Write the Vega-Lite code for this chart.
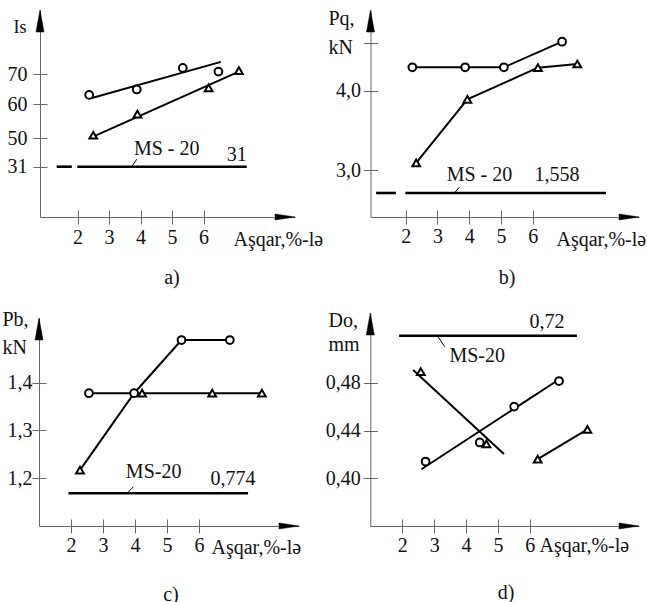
{
  "$schema": "https://vega.github.io/schema/vega-lite/v6.json",
  "padding": 0,
  "spacing": 0,
  "bounds": "flush",
  "columns": 2,
  "datasets": {
    "a_pts": [
      {"x": 2.37, "y": 63.1, "m": "circle"}, {"x": 3.88, "y": 64.9, "m": "circle"},
      {"x": 5.34, "y": 72.0, "m": "circle"}, {"x": 6.47, "y": 70.8, "m": "circle"},
      {"x": 2.5, "y": 50.9, "m": "triangle"}, {"x": 3.9, "y": 57.1, "m": "triangle"},
      {"x": 6.16, "y": 65.4, "m": "triangle"}, {"x": 7.12, "y": 71.1, "m": "triangle"}
    ],
    "a_fit": [
      {"x": 2.4, "y": 61.9, "g": "circle"}, {"x": 6.55, "y": 74.0, "g": "circle"},
      {"x": 2.48, "y": 50.4, "g": "triangle"}, {"x": 7.12, "y": 70.8, "g": "triangle"}
    ],
    "a_ms": [{"x": 1.34, "x2": 1.82, "y": 31}, {"x": 1.99, "x2": 7.37, "y": 31}],
    "a_lead": [{"x": 3.72, "y": 31, "x2": 3.88, "y2": 36}],
    "a_lbl": [{"x": 4.83, "y": 38.9, "t": "MS - 20"}, {"x": 7.05, "y": 34.5, "t": "31"}],
    "a_ay": [{"x": 0.81, "y": 91.1}],
    "a_ax": [{"x": 8.9, "y": 0}],
    "b_pts": [
      {"x": 2.21, "y": 4.295, "m": "circle", "g": "circle"}, {"x": 3.87, "y": 4.295, "m": "circle", "g": "circle"},
      {"x": 5.09, "y": 4.295, "m": "circle", "g": "circle"}, {"x": 6.92, "y": 4.618, "m": "circle", "g": "circle"},
      {"x": 2.33, "y": 3.09, "m": "triangle", "g": "triangle"}, {"x": 3.94, "y": 3.89, "m": "triangle", "g": "triangle"},
      {"x": 6.16, "y": 4.29, "m": "triangle", "g": "triangle"}, {"x": 7.4, "y": 4.337, "m": "triangle", "g": "triangle"}
    ],
    "b_ms": [{"x": 1.07, "x2": 1.69, "y": 1.558}, {"x": 1.99, "x2": 8.3, "y": 1.558}],
    "b_lead": [{"x": 3.53, "y": 1.558, "x2": 3.69, "y2": 1.93}],
    "b_lbl": [{"x": 4.32, "y": 2.28, "t": "MS - 20"}, {"x": 6.76, "y": 2.28, "t": "1,558"}],
    "b_ay": [{"x": 0.893, "y": 5.018}],
    "b_ax": [{"x": 9.34, "y": 0}],
    "c_pts": [
      {"x": 2.28, "y": 1.217, "m": "triangle", "g": "A"}, {"x": 3.97, "y": 1.378, "m": "circle", "g": "A"},
      {"x": 5.45, "y": 1.489, "m": "circle", "g": "A"}, {"x": 6.96, "y": 1.489, "m": "circle", "g": "A"},
      {"x": 2.56, "y": 1.378, "m": "circle", "g": "B"}, {"x": 4.22, "y": 1.378, "m": "triangle", "g": "B"},
      {"x": 6.41, "y": 1.378, "m": "triangle", "g": "B"}, {"x": 7.96, "y": 1.378, "m": "triangle", "g": "B"}
    ],
    "c_ms": [{"x": 1.92, "x2": 7.53, "y": 0.774}],
    "c_lead": [{"x": 3.75, "y": 0.774, "x2": 3.95, "y2": 0.961}],
    "c_lbl": [{"x": 4.58, "y": 1.2, "t": "MS-20"}, {"x": 7.06, "y": 1.01, "t": "0,774"}],
    "c_ay": [{"x": 1.0, "y": 1.535}],
    "c_ax": [{"x": 9.12, "y": 0}],
    "d_pts": [
      {"x": 2.73, "y": 0.414, "m": "circle"}, {"x": 4.43, "y": 0.43, "m": "circle"},
      {"x": 5.51, "y": 0.46, "m": "circle"}, {"x": 6.92, "y": 0.4814, "m": "circle"},
      {"x": 2.58, "y": 0.4892, "m": "triangle"}, {"x": 4.64, "y": 0.4288, "m": "triangle"},
      {"x": 6.25, "y": 0.416, "m": "triangle"}, {"x": 7.81, "y": 0.441, "m": "triangle"}
    ],
    "d_fit": [
      {"x": 2.6, "y": 0.4076, "g": "circle"}, {"x": 6.82, "y": 0.481, "g": "circle"},
      {"x": 2.34, "y": 0.4906, "g": "triangle"}, {"x": 5.19, "y": 0.4204, "g": "triangle"},
      {"x": 6.25, "y": 0.416, "g": "triangle2"}, {"x": 7.81, "y": 0.441, "g": "triangle2"}
    ],
    "d_ms": [{"x": 1.9, "x2": 7.48, "y": 0.72}],
    "d_lead": [{"x": 3.1, "y": 0.72, "x2": 3.33, "y2": 0.615}],
    "d_lbl": [{"x": 4.35, "y": 0.497, "t": "MS-20"}, {"x": 6.54, "y": 0.746, "t": "0,72"}],
    "d_ay": [{"x": 0.995, "y": 0.8}],
    "d_ax": [{"x": 9.43, "y": 0.36}]
  },
  "concat": [
    {
      "width": 323, "height": 300,
      "title": {"text": "a)", "orient": "bottom", "frame": "group", "anchor": "middle", "offset": -32, "dx": 10.5, "baseline": "top"},
      "encoding": {
        "x": {"field": "x", "type": "quantitative",
              "scale": {"domain": [0.81, 8.9], "range": [40, 295], "nice": false, "zero": false},
              "axis": {"values": [2, 3, 4, 5, 6], "offset": -83, "labelPadding": 3, "encoding": {"ticks": {"y": {"value": -7}}},
                       "title": "Aşqar,%-lə", "titleX": 233, "titleY": 28, "titleAlign": "left", "titleBaseline": "alphabetic"}},
        "y": {"field": "y", "type": "quantitative",
              "scale": {"domain": [0, 31, 50, 60, 70, 91.1], "range": [217, 166.7, 138.3, 104.3, 74, 10], "nice": false, "zero": false},
              "axis": {"values": [31, 50, 60, 70], "offset": -40, "labelPadding": 6, "encoding": {"ticks": {"x": {"value": 7}}},
                       "title": "Is", "titleAngle": 0, "titleX": -27, "titleY": 32, "titleFontSize": 18, "titleAlign": "left", "titleBaseline": "alphabetic"}}
      },
      "layer": [
        {"data": {"name": "a_ms"}, "mark": {"type": "rule", "color": "#000", "strokeWidth": 2.6}, "encoding": {"x2": {"field": "x2"}}},
        {"data": {"name": "a_lead"}, "mark": {"type": "rule", "color": "#000", "strokeWidth": 1}, "encoding": {"x2": {"field": "x2"}, "y2": {"field": "y2"}}},
        {"data": {"name": "a_fit"}, "mark": {"type": "line", "color": "#000", "strokeWidth": 2}, "encoding": {"detail": {"field": "g"}}},
        {"data": {"name": "a_pts"}, "mark": {"type": "point", "filled": true, "fill": "#fff", "stroke": "#000", "strokeWidth": 2, "opacity": 1, "size": 60},
         "encoding": {"shape": {"field": "m", "type": "nominal", "scale": {"domain": ["circle", "triangle"], "range": ["circle", "triangle-up"]}, "legend": null}}},
        {"data": {"name": "a_lbl"}, "mark": {"type": "text", "fontSize": 20, "color": "#111", "align": "center", "baseline": "alphabetic"}, "encoding": {"text": {"field": "t"}}},
        {"data": {"name": "a_ay"}, "mark": {"type": "point", "shape": "M0,0L0.4,2.2L-0.4,2.2Z", "filled": true, "fill": "#000", "stroke": "#000", "strokeWidth": 0.5, "opacity": 1, "size": 400}},
        {"data": {"name": "a_ax"}, "mark": {"type": "point", "shape": "M0,0L-2,-0.3L-2,0.3Z", "filled": true, "fill": "#000", "stroke": "#000", "strokeWidth": 0.5, "opacity": 1, "size": 400}}
      ]
    },
    {
      "width": 324, "height": 300,
      "title": {"text": "b)", "orient": "bottom", "frame": "group", "anchor": "middle", "offset": -32, "dx": 22, "baseline": "top"},
      "encoding": {
        "x": {"field": "x", "type": "quantitative",
              "scale": {"domain": [0.893, 9.34], "range": [47.5, 316], "nice": false, "zero": false},
              "axis": {"values": [2, 3, 4, 5, 6], "offset": -83, "labelPadding": 2, "encoding": {"ticks": {"y": {"value": -7}}},
                       "title": "Aşqar,%-lə", "titleX": 233, "titleY": 28, "titleAlign": "left", "titleBaseline": "alphabetic"}},
        "y": {"field": "y", "type": "quantitative",
              "scale": {"domain": [0, 1.558, 3, 4, 5.018], "range": [217, 193, 170, 90.7, 10], "nice": false, "zero": false},
              "axis": {"values": [3, 4, 4.6], "offset": -47.5, "labelPadding": 3, "encoding": {"ticks": {"x": {"value": 7}}},
                       "labelExpr": "datum.value > 4.5 ? '' : replace(format(datum.value, '.1f'), '.', ',')",
                       "title": ["Pq,", "kN"], "titleLineHeight": 29, "titleAngle": 0, "titleX": -42.5, "titleY": 24, "titleAlign": "left", "titleBaseline": "alphabetic"}}
      },
      "layer": [
        {"data": {"name": "b_ms"}, "mark": {"type": "rule", "color": "#000", "strokeWidth": 2.6}, "encoding": {"x2": {"field": "x2"}}},
        {"data": {"name": "b_lead"}, "mark": {"type": "rule", "color": "#000", "strokeWidth": 1}, "encoding": {"x2": {"field": "x2"}, "y2": {"field": "y2"}}},
        {"data": {"name": "b_pts"}, "mark": {"type": "line", "color": "#000", "strokeWidth": 2}, "encoding": {"detail": {"field": "g"}}},
        {"data": {"name": "b_pts"}, "mark": {"type": "point", "filled": true, "fill": "#fff", "stroke": "#000", "strokeWidth": 2, "opacity": 1, "size": 60},
         "encoding": {"shape": {"field": "m", "type": "nominal", "scale": {"domain": ["circle", "triangle"], "range": ["circle", "triangle-up"]}, "legend": null}}},
        {"data": {"name": "b_lbl"}, "mark": {"type": "text", "fontSize": 20, "color": "#111", "align": "center", "baseline": "alphabetic"}, "encoding": {"text": {"field": "t"}}},
        {"data": {"name": "b_ay"}, "mark": {"type": "point", "shape": "M0,0L0.4,2.2L-0.4,2.2Z", "filled": true, "fill": "#000", "stroke": "#000", "strokeWidth": 0.5, "opacity": 1, "size": 400}},
        {"data": {"name": "b_ax"}, "mark": {"type": "point", "shape": "M0,0L-2,-0.3L-2,0.3Z", "filled": true, "fill": "#000", "stroke": "#000", "strokeWidth": 0.5, "opacity": 1, "size": 400}}
      ]
    },
    {
      "width": 323, "height": 302,
      "title": {"text": "c)", "orient": "bottom", "frame": "group", "anchor": "middle", "offset": -17, "dx": 9.5, "baseline": "top"},
      "encoding": {
        "x": {"field": "x", "type": "quantitative",
              "scale": {"domain": [1.0, 9.12], "range": [39, 299], "nice": false, "zero": false},
              "axis": {"values": [2, 3, 4, 5, 6], "offset": -76, "labelPadding": 2, "encoding": {"ticks": {"y": {"value": -7}}},
                       "title": "Aşqar,%-lə", "titleX": 211, "titleY": 27, "titleAlign": "left", "titleBaseline": "alphabetic"}},
        "y": {"field": "y", "type": "quantitative",
              "scale": {"domain": [0, 0.774, 1.2, 1.4, 1.535], "range": [226, 193.3, 178.3, 82.7, 18], "nice": false, "zero": false},
              "axis": {"values": [1.2, 1.3, 1.4], "offset": -39, "labelPadding": 0, "encoding": {"ticks": {"x": {"value": 7}}},
                       "labelExpr": "replace(format(datum.value, '.1f'), '.', ',')",
                       "title": ["Pb,", "kN"], "titleLineHeight": 28, "titleAngle": 0, "titleX": -37, "titleY": 25, "titleAlign": "left", "titleBaseline": "alphabetic"}}
      },
      "layer": [
        {"data": {"name": "c_ms"}, "mark": {"type": "rule", "color": "#000", "strokeWidth": 2.6}, "encoding": {"x2": {"field": "x2"}}},
        {"data": {"name": "c_lead"}, "mark": {"type": "rule", "color": "#000", "strokeWidth": 1}, "encoding": {"x2": {"field": "x2"}, "y2": {"field": "y2"}}},
        {"data": {"name": "c_pts"}, "mark": {"type": "line", "color": "#000", "strokeWidth": 2}, "encoding": {"detail": {"field": "g"}}},
        {"data": {"name": "c_pts"}, "mark": {"type": "point", "filled": true, "fill": "#fff", "stroke": "#000", "strokeWidth": 2, "opacity": 1, "size": 60},
         "encoding": {"shape": {"field": "m", "type": "nominal", "scale": {"domain": ["circle", "triangle"], "range": ["circle", "triangle-up"]}, "legend": null}}},
        {"data": {"name": "c_lbl"}, "mark": {"type": "text", "fontSize": 20, "color": "#111", "align": "center", "baseline": "alphabetic"}, "encoding": {"text": {"field": "t"}}},
        {"data": {"name": "c_ay"}, "mark": {"type": "point", "shape": "M0,0L0.4,2.2L-0.4,2.2Z", "filled": true, "fill": "#000", "stroke": "#000", "strokeWidth": 0.5, "opacity": 1, "size": 400}},
        {"data": {"name": "c_ax"}, "mark": {"type": "point", "shape": "M0,0L-2,-0.3L-2,0.3Z", "filled": true, "fill": "#000", "stroke": "#000", "strokeWidth": 0.5, "opacity": 1, "size": 400}}
      ]
    },
    {
      "width": 324, "height": 302,
      "title": {"text": "d)", "orient": "bottom", "frame": "group", "anchor": "middle", "offset": -19, "dx": 21, "baseline": "top"},
      "encoding": {
        "x": {"field": "x", "type": "quantitative",
              "scale": {"domain": [0.995, 9.43], "range": [47.3, 316], "nice": false, "zero": false},
              "axis": {"values": [2, 3, 4, 5, 6], "offset": -76, "labelPadding": 2, "encoding": {"ticks": {"y": {"value": -7}}},
                       "title": "Aşqar,%-lə", "titleX": 216, "titleY": 25, "titleAlign": "left", "titleBaseline": "alphabetic"}},
        "y": {"field": "y", "type": "quantitative",
              "scale": {"domain": [0.36, 0.4, 0.48, 0.5, 0.72, 0.8], "range": [226, 178.3, 82.7, 58.8, 35.7, 13], "nice": false, "zero": false},
              "axis": {"values": [0.4, 0.44, 0.48], "offset": -47.3, "labelPadding": 3, "encoding": {"ticks": {"x": {"value": 7}}},
                       "labelExpr": "replace(format(datum.value, '.2f'), '.', ',')",
                       "title": ["Do,", "mm"], "titleLineHeight": 24, "titleAngle": 0, "titleX": -42.3, "titleY": 26, "titleAlign": "left", "titleBaseline": "alphabetic"}}
      },
      "layer": [
        {"data": {"name": "d_ms"}, "mark": {"type": "rule", "color": "#000", "strokeWidth": 2.6}, "encoding": {"x2": {"field": "x2"}}},
        {"data": {"name": "d_lead"}, "mark": {"type": "rule", "color": "#000", "strokeWidth": 1}, "encoding": {"x2": {"field": "x2"}, "y2": {"field": "y2"}}},
        {"data": {"name": "d_fit"}, "mark": {"type": "line", "color": "#000", "strokeWidth": 2}, "encoding": {"detail": {"field": "g"}}},
        {"data": {"name": "d_pts"}, "mark": {"type": "point", "filled": true, "fill": "#fff", "stroke": "#000", "strokeWidth": 2, "opacity": 1, "size": 60},
         "encoding": {"shape": {"field": "m", "type": "nominal", "scale": {"domain": ["circle", "triangle"], "range": ["circle", "triangle-up"]}, "legend": null}}},
        {"data": {"name": "d_lbl"}, "mark": {"type": "text", "fontSize": 20, "color": "#111", "align": "center", "baseline": "alphabetic"}, "encoding": {"text": {"field": "t"}}},
        {"data": {"name": "d_ay"}, "mark": {"type": "point", "shape": "M0,0L0.4,2.2L-0.4,2.2Z", "filled": true, "fill": "#000", "stroke": "#000", "strokeWidth": 0.5, "opacity": 1, "size": 400}},
        {"data": {"name": "d_ax"}, "mark": {"type": "point", "shape": "M0,0L-2,-0.3L-2,0.3Z", "filled": true, "fill": "#000", "stroke": "#000", "strokeWidth": 0.5, "opacity": 1, "size": 400}}
      ]
    }
  ],
  "config": {
    "view": {"stroke": null},
    "font": "Liberation Serif",
    "axis": {
      "domain": true, "domainColor": "#666", "domainWidth": 1, "tickColor": "#666", "tickWidth": 1, "tickSize": 7, "grid": false,
      "labelFont": "Liberation Serif", "labelFontSize": 20, "labelColor": "#111", "labelOverlap": false, "labelFlush": false, "labelBound": false,
      "titleFont": "Liberation Serif", "titleFontSize": 20, "titleFontWeight": "normal", "titleColor": "#111", "titlePadding": 0
    },
    "title": {"font": "Liberation Serif", "fontSize": 20, "fontWeight": "normal", "color": "#111"}
  }
}
